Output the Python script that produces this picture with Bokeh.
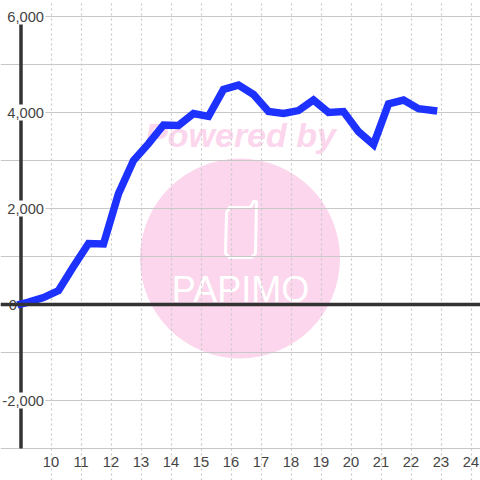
from bokeh.plotting import figure
from bokeh.models import Range1d, LinearAxis, FixedTicker, NumeralTickFormatter, Span, Label
from bokeh.embed import file_html
from bokeh.resources import INLINE

hours = [9.0, 9.25, 9.75, 10.25, 10.75, 11.25, 11.75, 12.25, 12.75, 13.25, 13.75, 14.25, 14.75, 15.25, 15.75,
         16.25, 16.75, 17.25, 17.75, 18.25, 18.75, 19.25, 19.75, 20.25, 20.75, 21.25, 21.75, 22.25, 22.75]
values = [10, 50, 145, 290, 790, 1270, 1260, 2310, 3000, 3350, 3740, 3730, 3980, 3920, 4480,
          4570, 4375, 4020, 3980, 4040, 4260, 4000, 4020, 3600, 3330, 4180, 4260, 4080, 4040]
x_ticks = list(range(10, 25))
y_label_ticks = [6000, 4000, 2000, -2000]
zero_tick = [0]
y_grid_ticks = [6000, 5000, 4000, 3000, 2000, 1000, 0, -1000, -2000, -3000]
DARK = "#333333"; GRID = "#c8c8c8"; PINK = "#fbd6ec"; FONT = "Liberation Sans"; LABEL = "#444444"

# pixel position helpers for the decorative watermark only
def dx(px): return 10 + (px - 50.5) / 30
def dy(py): return (304 - py) / 0.048

p = figure(width=480, height=480, output_backend="svg", toolbar_location=None,
           x_range=Range1d(dx(0), dx(480)), y_range=Range1d(dy(480), dy(0)),
           min_border=0, outline_line_color=None, background_fill_color="#ffffff",
           border_fill_color="#ffffff", x_axis_location=None, y_axis_location=None)

# grid
p.xgrid.ticker = FixedTicker(ticks=x_ticks)
p.xgrid.bounds = (-3000, 6000)
p.xgrid.grid_line_color = GRID
p.xgrid.grid_line_dash = "2 3"
p.xgrid.grid_line_width = 1.2
p.ygrid.ticker = FixedTicker(ticks=y_grid_ticks)
p.ygrid.bounds = (9, dx(480))
p.ygrid.grid_line_color = GRID
p.ygrid.grid_line_width = 1.2

# watermark
p.scatter([dx(239.5)], [dy(258)], size=200, color=PINK, line_color=None, level="image")
p.add_layout(Label(x=dx(240), y=dy(134), text="Powered by", text_font=FONT, text_font_style="bold italic",
                   text_font_size="34px", text_color=PINK, text_align="center", text_baseline="middle",
                   level="image"))
p.add_layout(Label(x=dx(240), y=dy(289), text="PAPIMO", text_font="Liberation Sans",
                   text_font_size="36px", text_color="#ffffff", text_align="center", text_baseline="middle",
                   level="image"))
phone_px = [(226, 212), (229, 207), (250, 207), (253, 201), (256, 201), (255, 253), (251, 257), (229, 257), (225, 253), (226, 212)]
p.line([dx(a) for a, b in phone_px], [dy(b) for a, b in phone_px], line_color="#ffffff", line_width=3, level="image")

# axis lines and white label boxes
p.segment([9], [-3000], [9], [6000], line_color=DARK, line_width=3.5)
p.add_layout(Span(location=0, dimension="width", line_color=DARK, line_width=3.5))
p.rect([dx(22)] * 4, y_label_ticks, width=46, height=16, width_units="screen", height_units="screen",
       color="#ffffff", line_color=None)

# series
p.line(hours, values, line_color="#1e32ff", line_width=7.5, line_join="miter", line_cap="square")

# axes
def y_axis(ticks, standoff):
    a = LinearAxis(ticker=FixedTicker(ticks=ticks), formatter=NumeralTickFormatter(format="0,0"),
                   fixed_location=9, axis_line_color=None, major_tick_line_color=None,
                   minor_tick_line_color=None, major_tick_in=0, major_tick_out=0, minor_tick_in=0, minor_tick_out=0,
                   major_label_standoff=standoff,
                   major_label_text_font=FONT, major_label_text_font_size="14.7px",
                   major_label_text_color=LABEL)
    p.add_layout(a, "left")
y_axis(y_label_ticks, -23)
y_axis(zero_tick, 4)
xa = LinearAxis(ticker=FixedTicker(ticks=x_ticks), fixed_location=-3000, axis_line_color=None,
                major_tick_line_color=None, minor_tick_line_color=None, major_tick_in=0, major_tick_out=0,
                minor_tick_in=0, minor_tick_out=0, major_label_standoff=8,
                major_label_text_font=FONT, major_label_text_font_size="14.7px", major_label_text_color=LABEL)
p.add_layout(xa, "below")

open("out.html", "w").write(file_html(p, INLINE))
